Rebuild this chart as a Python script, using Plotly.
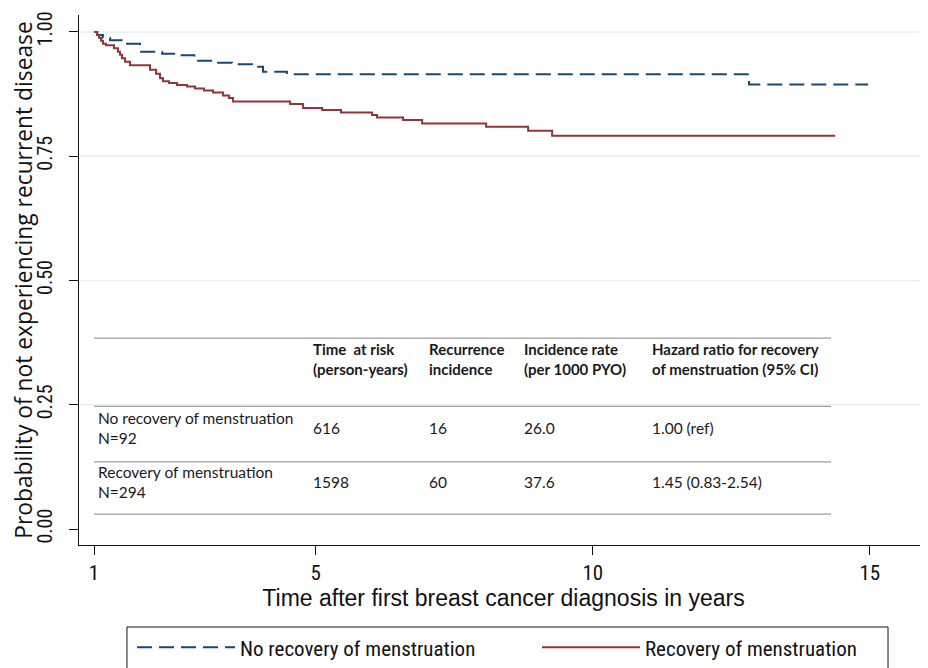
import plotly.graph_objects as go

# ---------------- data ----------------
no_rec_time = [1.0, 1.06, 1.16, 1.29, 1.54, 1.83, 2.23, 2.52, 2.81, 3.20, 3.49, 3.85, 4.05, 4.48, 12.82, 14.97]
no_rec_surv = [1.0, 0.994, 0.988, 0.983, 0.976, 0.960, 0.956, 0.953, 0.942, 0.938, 0.935, 0.930, 0.920, 0.915, 0.894, 0.894]

rec_time = [1.0, 1.054, 1.090, 1.126, 1.162, 1.217, 1.361, 1.433, 1.469, 1.505, 1.560, 1.650, 2.011, 2.119,
            2.191, 2.245, 2.354, 2.498, 2.679, 2.823, 2.986, 3.148, 3.329, 3.437, 3.509, 4.538, 4.773, 5.116,
            5.458, 6.018, 6.108, 6.578, 6.921, 8.076, 8.834, 9.267, 14.375]
rec_surv = [1.0, 0.994, 0.988, 0.982, 0.976, 0.973, 0.967, 0.960, 0.954, 0.947, 0.940, 0.933, 0.924, 0.916,
            0.907, 0.901, 0.897, 0.893, 0.890, 0.886, 0.882, 0.878, 0.872, 0.867, 0.860, 0.855, 0.847, 0.843,
            0.838, 0.833, 0.828, 0.823, 0.816, 0.809, 0.801, 0.791, 0.791]

series_names = ["No recovery of menstruation", "Recovery of menstruation"]

x_tick_vals = [1, 5, 10, 15]
y_tick_vals = [0.0, 0.25, 0.50, 0.75, 1.00]
y_tick_text = ["0.00", "0.25", "0.50", "0.75", "1.00"]
y_grid_vals = [0.25, 0.50, 0.75, 1.00]

table_headers = ["", "Time  at risk<br>(person-years)", "Recurrence<br>incidence",
                 "Incidence rate<br>(per 1000 PYO)", "Hazard ratio for recovery<br>of menstruation (95% CI)"]
table_rows = [
    ["No recovery of menstruation<br>N=92", "616", "16", "26.0", "1.00 (ref)"],
    ["Recovery of menstruation<br>N=294", "1598", "60", "37.6", "1.45 (0.83-2.54)"],
]

# ---------------- layout helpers (positions, not data) ----------------
col_x = [1.04, 4.92, 7.01, 8.73, 11.04]
header_y = 0.343
row_y = [0.204, 0.094]
table_lines_y = [0.384, 0.247, 0.135, 0.030]
table_x0, table_x1 = 1.0, 14.30

NAVY = "#1a476f"
MAROON = "#90353b"
AX_FONT = "Liberation Sans Narrow, Roboto Condensed, Roboto, sans-serif"
XT_FONT = "Liberation Sans, Arial, sans-serif"
YT_FONT = "Open Sans, Noto Sans, sans-serif"
TBL_FONT = "Lato, Carlito, sans-serif"

fig = go.Figure()
fig.add_trace(go.Scatter(x=no_rec_time, y=no_rec_surv, mode="lines", line_shape="hv",
                         name=series_names[0],
                         line=dict(color=NAVY, width=2, dash="15px,7px")))
fig.add_trace(go.Scatter(x=rec_time, y=rec_surv, mode="lines", line_shape="hv",
                         name=series_names[1],
                         line=dict(color=MAROON, width=2)))

shapes = []
for gv in y_grid_vals:
    shapes.append(dict(type="line", xref="paper", yref="y", x0=0, x1=1, y0=gv, y1=gv,
                       line=dict(color="#e6eff1", width=1.5), layer="below"))
for yy in table_lines_y:
    shapes.append(dict(type="line", xref="x", yref="y", x0=table_x0, x1=table_x1, y0=yy, y1=yy,
                       line=dict(color="#a0a0a0", width=1.2), layer="above"))
# legend frame
shapes.append(dict(type="rect", xref="paper", yref="paper", x0=0.0565, x1=0.9529, y0=-0.40, y1=-0.1547,
                   line=dict(color="#111111", width=1), fillcolor="rgba(0,0,0,0)", layer="above"))

annotations = []
for cx, h in zip(col_x, table_headers):
    if h:
        annotations.append(dict(x=cx, y=header_y, xref="x", yref="y", text="<b>" + h + "</b>",
                                showarrow=False, xanchor="left", yanchor="middle", align="left",
                                font=dict(family=TBL_FONT, size=15, color="#1a1a1a")))
for ry, row in zip(row_y, table_rows):
    for cx, cell in zip(col_x, row):
        annotations.append(dict(x=cx, y=ry, xref="x", yref="y", text=cell,
                                showarrow=False, xanchor="left", yanchor="middle", align="left",
                                font=dict(family=TBL_FONT, size=15.5, color="#1a1a1a")))

fig.update_layout(
    width=920, height=660,
    margin=dict(l=71, r=0, t=7, b=123, autoexpand=False),
    paper_bgcolor="white", plot_bgcolor="white",
    font=dict(family=AX_FONT, size=19, color="#111111"),
    showlegend=True,
    legend=dict(orientation="h", x=0.0624, y=-0.155, xanchor="left", yanchor="top",
                borderwidth=0, bgcolor="rgba(0,0,0,0)",
                font=dict(family=AX_FONT, size=21, color="#111111"),
                entrywidth=292, entrywidthmode="pixels", itemwidth=98,
                tracegroupgap=0),
    shapes=shapes,
    annotations=annotations,
)
fig.update_xaxes(range=[0.729, 16.05], tickvals=x_tick_vals, ticks="outside", ticklen=9,
                 tickcolor="#111111", showline=True, linecolor="#111111", linewidth=1.2,
                 showgrid=False, zeroline=False, automargin=False,
                 title=dict(text="Time after first breast cancer diagnosis in years", standoff=3,
                            font=dict(family=XT_FONT, size=23)),
                 tickfont=dict(family=AX_FONT, size=21))
fig.update_yaxes(range=[-0.032, 1.034], tickvals=y_tick_vals, ticktext=y_tick_text,
                 ticks="outside", ticklen=9, tickcolor="#111111", tickangle=-90,
                 ticklabelstandoff=9,
                 showline=True, linecolor="#111111", linewidth=1.2,
                 showgrid=False, zeroline=False, automargin=False,
                 title=dict(text="Probability of not experiencing recurrent disease", standoff=0,
                            font=dict(family=YT_FONT, size=22.8)),
                 tickfont=dict(family=AX_FONT, size=20))

fig.write_html("out.html")
